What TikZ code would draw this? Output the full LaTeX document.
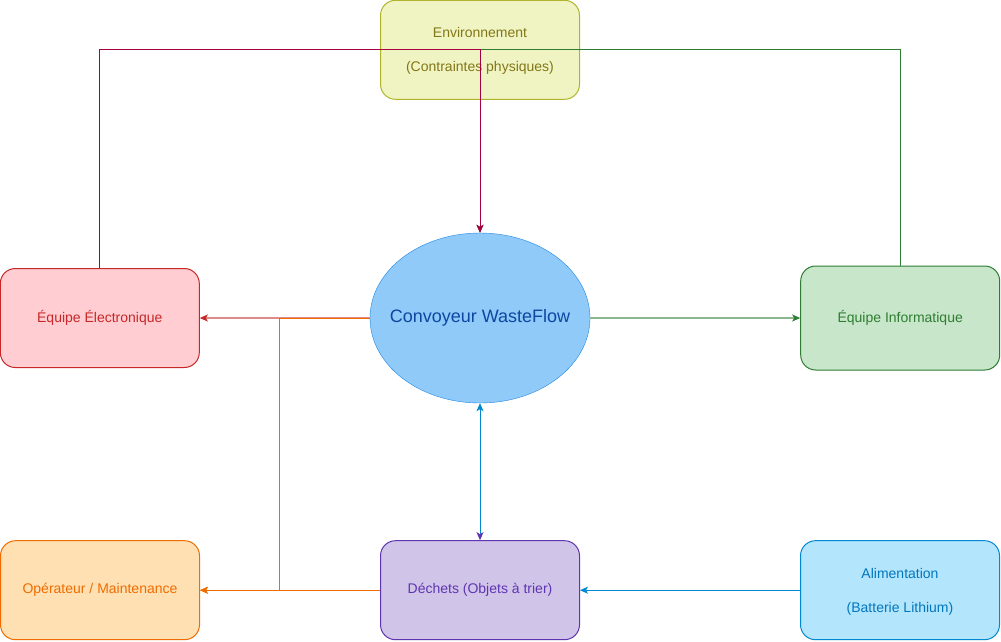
\documentclass[tikz,border=0pt]{standalone}
\usepackage{fontspec}
\setmainfont{Liberation Sans}
\usetikzlibrary{shapes, arrows.meta, positioning, calc}

\definecolor{envFill}{HTML}{F0F4C3}
\definecolor{envLine}{HTML}{AFB42B}
\definecolor{envText}{HTML}{827717}
\definecolor{elecFill}{HTML}{FFCDD2}
\definecolor{elecLine}{HTML}{C62828}
\definecolor{convFill}{HTML}{90CAF9}
\definecolor{convLine}{HTML}{1E88E5}
\definecolor{convText}{HTML}{0D47A1}
\definecolor{infoFill}{HTML}{C8E6C9}
\definecolor{infoLine}{HTML}{2E7D32}
\definecolor{operFill}{HTML}{FFE0B2}
\definecolor{operLine}{HTML}{EF6C00}
\definecolor{dechFill}{HTML}{D1C4E9}
\definecolor{dechLine}{HTML}{5E35B1}
\definecolor{alimFill}{HTML}{B3E5FC}
\definecolor{alimLine}{HTML}{0288D1}
\definecolor{alimText}{HTML}{0277BD}
\definecolor{wineLine}{HTML}{A50040}

\begin{document}
\begin{tikzpicture}[
            x=1pt, y=-1pt,
            box/.style={rectangle, draw, line width=1pt, rounded corners=15pt, minimum width=199pt, minimum height=99pt, align=center, font=\fontsize{14}{17}\selectfont},
            twoline/.style={box, text depth=-6pt},
            arrow/.style={-{Stealth[length=8pt, width=7pt, inset=2pt]}, line width=1pt},
            faded/.style={line width=1.5pt}
        ]
        \useasboundingbox (0,0) rectangle (1001,641);

        \node[ellipse, draw=convLine, fill=convFill, text=convText, inner xsep=-13pt, inner ysep=0pt, minimum width=220pt, minimum height=170pt, font=\fontsize{18}{22}\selectfont] (conv) at (480,318) {Convoyeur WasteFlow};
        \node[twoline, draw=envLine, fill=envFill, text=envText, above=133pt of conv] (env) {Environnement\\[17pt](Contraintes physiques)};
        \node[box, draw=elecLine, fill=elecFill, text=elecLine, left=170pt of conv] (elec) {Équipe Électronique};
        \node[box, draw=infoLine, fill=infoFill, text=infoLine, minimum height=104pt, right=210pt of conv] (info) {Équipe Informatique};
        \node[box, draw=dechLine, fill=dechFill, text=dechLine, below=137pt of conv] (dech) {Déchets (Objets à trier)};
        \node[box, draw=operLine, fill=operFill, text=operLine, left=180pt of dech] (oper) {Opérateur / Maintenance};
        \node[twoline, draw=alimLine, fill=alimFill, text=alimText, right=220pt of dech] (alim) {Alimentation\\[17pt](Batterie Lithium)};

        \draw[arrow, draw=infoLine] (info.north) |- (env.center) -| (conv.north);
        \draw[arrow, draw=wineLine] (elec.north) |- (env.center) -| (conv.north);

        \draw[arrow, faded, draw=elecLine!55, -{Stealth[length=8pt, width=7pt, inset=2pt, color=elecLine]}] (conv.west) -- (elec.east);
        \draw[arrow, faded, draw=infoLine!55, -{Stealth[length=8pt, width=7pt, inset=2pt, color=infoLine]}] (conv.east) -- (info.west);
        \draw[arrow, draw=operLine] (conv.west) -- ++(-90,0) |- (oper.east);
        \draw[arrow, draw=operLine] (dech.west) -- (oper.east);
        \draw[line width=1pt, draw=alimLine, {Stealth[length=8pt, width=7pt, inset=2pt]}-{Stealth[length=8pt, width=7pt, inset=2pt, color=dechLine]}] (conv.south) -- (dech.north);
        \draw[arrow, draw=alimLine] (alim.west) -- (dech.east);

    \end{tikzpicture}
\end{document}
